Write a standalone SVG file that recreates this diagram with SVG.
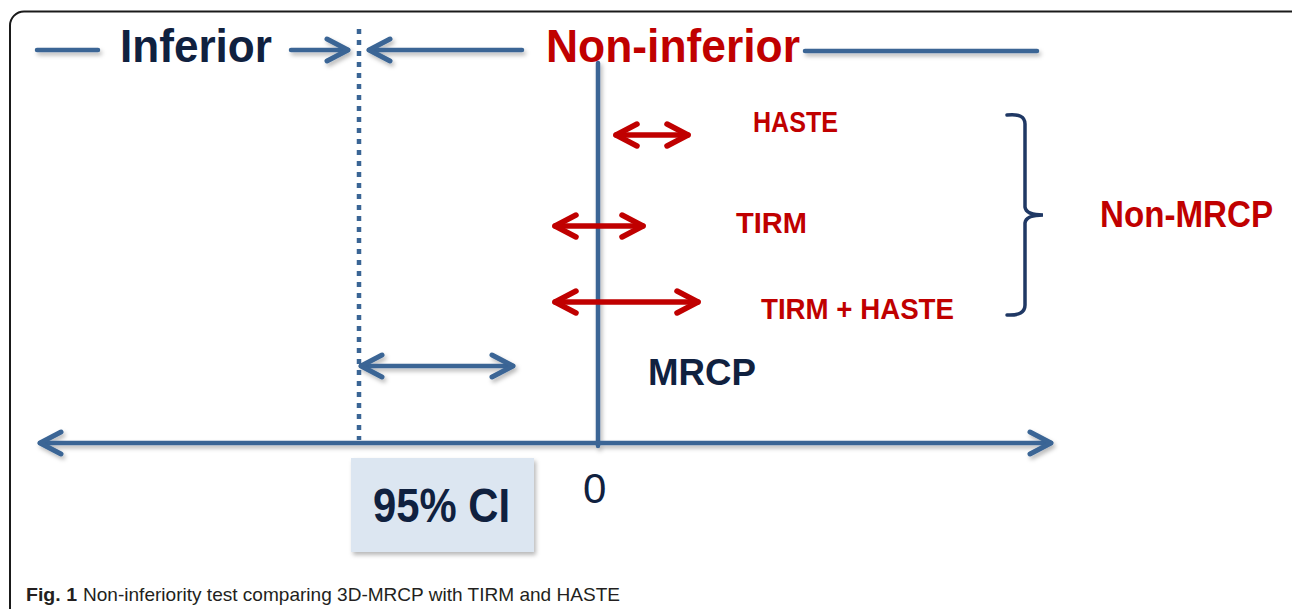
<svg xmlns="http://www.w3.org/2000/svg" width="1292" height="609" viewBox="0 0 1292 609">
<style>
.bl{stroke:#3a6595;stroke-width:4.5;fill:none;stroke-linecap:round}
.rd{stroke:#c00000;stroke-width:5.5;fill:none;stroke-linecap:round}
.t{font-family:"Liberation Sans",Arial,sans-serif;font-weight:bold}
.navy{fill:#10213f}
.red{fill:#c00000}
</style>
<defs>
<filter id="sh" filterUnits="userSpaceOnUse" x="0" y="0" width="1292" height="609">
<feDropShadow dx="2" dy="3" stdDeviation="2" flood-color="#000" flood-opacity="0.28"/>
</filter>
<marker id="hb" markerUnits="userSpaceOnUse" markerWidth="40" markerHeight="40" refX="0" refY="0" viewBox="-30 -20 40 40" orient="auto-start-reverse" overflow="visible">
<path d="M-21,-11 L0,0 L-21,11" fill="none" stroke="#3a6595" stroke-width="5" stroke-linecap="round" stroke-linejoin="round"/>
</marker>
<marker id="hr" markerUnits="userSpaceOnUse" markerWidth="40" markerHeight="40" refX="0" refY="0" viewBox="-30 -20 40 40" orient="auto-start-reverse" overflow="visible">
<path d="M-21,-11 L0,0 L-21,11" fill="none" stroke="#c00000" stroke-width="5.5" stroke-linecap="round" stroke-linejoin="round"/>
</marker>
</defs>
<rect width="1292" height="609" fill="#fff"/>
<rect id="frame" x="10" y="11.5" width="1296" height="612" rx="14" fill="none" stroke="#1a1a1a" stroke-width="2"/>

<g id="connectors">
<g filter="url(#sh)">
<line class="bl" x1="37" y1="50" x2="98" y2="50"/>
<line class="bl" x1="291" y1="50" x2="348" y2="50" marker-end="url(#hb)"/>
<line class="bl" x1="522" y1="50" x2="369" y2="50" marker-end="url(#hb)"/>
<line class="bl" x1="805" y1="51" x2="1037" y2="51"/>
<line class="bl" x1="598" y1="63" x2="598" y2="446" stroke-linecap="butt" stroke-width="5"/>
<line class="bl" x1="40" y1="443" x2="1051" y2="443" marker-start="url(#hb)" marker-end="url(#hb)"/>
<line class="bl" x1="361" y1="366" x2="513" y2="366" marker-start="url(#hb)" marker-end="url(#hb)"/>
</g>
<line id="margin" x1="359" y1="29" x2="359" y2="440" stroke="#3a6595" stroke-width="4.5" stroke-dasharray="5 6"/>
<line class="rd" x1="616" y1="135" x2="688" y2="135" marker-start="url(#hr)" marker-end="url(#hr)"/>
<line class="rd" x1="555" y1="226" x2="643" y2="226" marker-start="url(#hr)" marker-end="url(#hr)"/>
<line class="rd" x1="555" y1="302" x2="698" y2="302" marker-start="url(#hr)" marker-end="url(#hr)"/>
<path id="bracket" d="M1007,115 Q1025,113 1025,124 L1025,207 Q1026,215 1043,215 Q1026,215 1025,223 L1025,305 Q1025,316 1007,315" fill="none" stroke="#1f3864" stroke-width="3.5" stroke-linecap="round"/>
</g>

<g id="inferior"><text class="t navy" x="120" y="62" font-size="47" textLength="152" lengthAdjust="spacingAndGlyphs">Inferior</text></g>
<g id="noninferior"><text class="t red" x="546" y="62" font-size="47" textLength="254" lengthAdjust="spacingAndGlyphs">Non-inferior</text></g>
<g id="haste"><text class="t red" x="753" y="132" font-size="30" textLength="85" lengthAdjust="spacingAndGlyphs">HASTE</text></g>
<g id="tirm"><text class="t red" x="736" y="233" font-size="30" textLength="71" lengthAdjust="spacingAndGlyphs">TIRM</text></g>
<g id="tirmhaste"><text class="t red" x="761" y="319" font-size="30" textLength="193" lengthAdjust="spacingAndGlyphs">TIRM + HASTE</text></g>
<g id="nonmrcp"><text class="t red" x="1100" y="227" font-size="37" textLength="173" lengthAdjust="spacingAndGlyphs">Non-MRCP</text></g>
<g id="mrcp"><text class="t navy" x="648" y="385" font-size="37" textLength="108" lengthAdjust="spacingAndGlyphs">MRCP</text></g>
<g id="ci">
<rect x="351" y="458" width="183" height="94" fill="#dce6f1" filter="url(#sh)"/>
<text class="t navy" x="373" y="522" font-size="49" textLength="137" lengthAdjust="spacingAndGlyphs">95% CI</text>
</g>
<g id="zero"><text x="583" y="503" font-family="Liberation Sans,Arial,sans-serif" font-size="42" fill="#10213f">0</text></g>
<g id="caption">
<text x="26" y="601" font-family="Liberation Sans,Arial,sans-serif" font-size="19" font-weight="bold" fill="#231f20" textLength="51" lengthAdjust="spacingAndGlyphs">Fig. 1</text>
<text x="83" y="601" font-family="Liberation Sans,Arial,sans-serif" font-size="19" fill="#231f20" textLength="537" lengthAdjust="spacingAndGlyphs">Non-inferiority test comparing 3D-MRCP with TIRM and HASTE</text>
</g>
</svg>
